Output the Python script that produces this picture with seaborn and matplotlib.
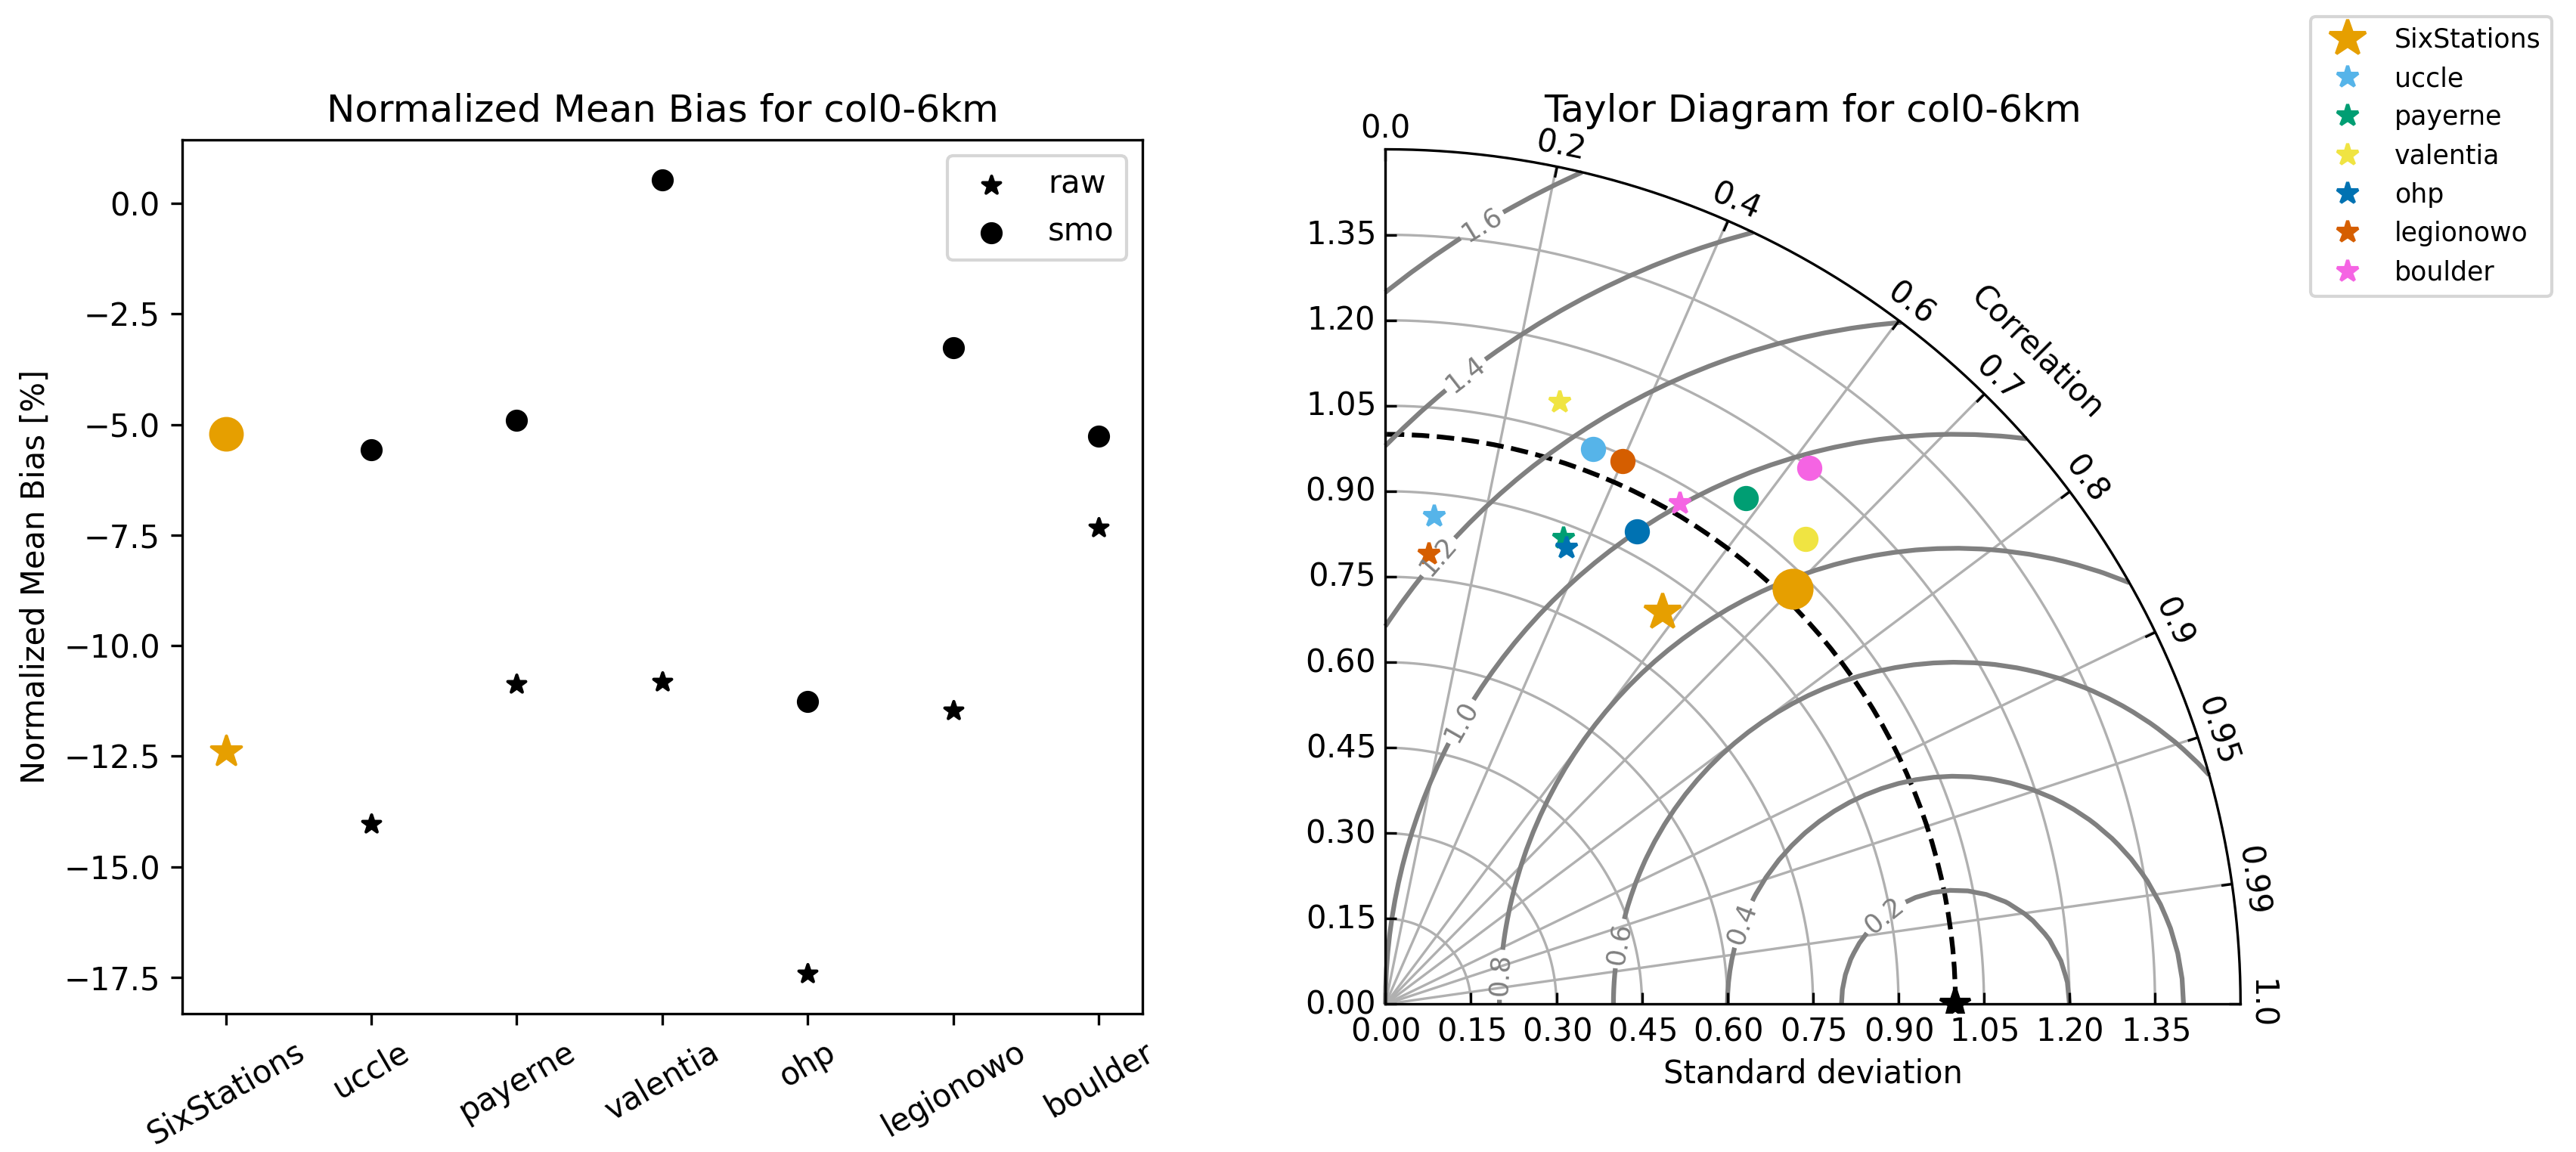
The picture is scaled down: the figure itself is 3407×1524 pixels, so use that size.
import numpy as np
import matplotlib
matplotlib.use('Agg')
import matplotlib.pyplot as plt
import seaborn as sns
from matplotlib.projections import PolarAxes
import mpl_toolkits.axisartist.floating_axes as FA
import mpl_toolkits.axisartist.grid_finder as GF

var_name = 'col0-6km'

# stations (SixStations is the combined set)
stations = ['uccle', 'payerne', 'valentia', 'ohp', 'legionowo', 'boulder']
station_colors = ['#56B4E9', '#009E73', '#F0E442', '#0072B2', '#D55E00', '#F564E3']
six_name = 'SixStations'
six_color = '#E69F00'

# normalized mean bias [%]
nmb_raw = [-14.03, -10.87, -10.82, -17.42, -11.46, -7.34]
nmb_smo = [-5.57, -4.91, 0.53, -11.26, -3.26, -5.27]
six_nmb_raw = -12.39
six_nmb_smo = -5.21

# taylor statistics (normalized std, correlation)
std_raw = [0.861, 0.875, 1.100, 0.861, 0.794, 1.020]
corr_raw = [0.100, 0.357, 0.278, 0.369, 0.097, 0.507]
std_smo = [1.040, 1.090, 1.100, 0.940, 1.040, 1.199]
corr_smo = [0.350, 0.580, 0.670, 0.469, 0.400, 0.620]
six_std_raw, six_corr_raw = 0.842, 0.578
six_std_smo, six_corr_smo = 1.020, 0.700
refstd = 1.0

corr_ticks = [0, 0.2, 0.4, 0.6, 0.7, 0.8, 0.9, 0.95, 0.99, 1]
rms_levels = [0.2, 0.4, 0.6, 0.8, 1.0, 1.2, 1.4, 1.6]
srange = (0, 1.5)
# where the rms labels sit (x, y in std units)
rms_label_xy = [(0.872, 0.161), (0.623, 0.142), (0.407, 0.107), (0.198, 0.052),
                (0.133, 0.496), (0.092, 0.786), (0.140, 1.105), (0.169, 1.367)]

fig = plt.figure(figsize=(3407 / 300, 1524 / 300), dpi=300)

## Normalized mean bias panel
ax1 = fig.add_axes([0.0707, 0.1201, 0.3728, 0.7583])
sns.scatterplot(x=[six_name], y=[six_nmb_smo], marker='o', s=100, color=six_color,
                edgecolor=six_color, linewidth=1, ax=ax1)
sns.scatterplot(x=[six_name], y=[six_nmb_raw], marker='*', s=100, color=six_color,
                edgecolor=six_color, linewidth=1, ax=ax1)
sns.scatterplot(x=stations, y=nmb_raw, marker='*', s=36, color='k', edgecolor='k',
                linewidth=1, label='raw', ax=ax1)
sns.scatterplot(x=stations, y=nmb_smo, marker='o', s=36, color='k', edgecolor='k',
                linewidth=1, label='smo', ax=ax1)
ax1.set_title(f'Normalized Mean Bias for {var_name}')
ax1.set_ylabel('Normalized Mean Bias [%]')
ax1.set_xlabel('')
ax1.tick_params(axis='x', labelrotation=30)
ax1.legend(loc='upper right')

## Taylor diagram panel
tr = PolarAxes.PolarTransform(apply_theta_transforms=False)
rlocs = np.array(corr_ticks)
tlocs = np.arccos(rlocs)
gl1 = GF.FixedLocator(tlocs)
tf1 = GF.DictFormatter(dict(zip(tlocs, map(str, rlocs))))
tmax = np.pi / 2
smin, smax = srange[0] * refstd, srange[1] * refstd

ghelper = FA.GridHelperCurveLinear(tr, extremes=(0, tmax, smin, smax),
                                   grid_locator1=gl1, tick_formatter1=tf1)
ax2 = fig.add_axes([0.53449, 0.12054, 0.33860, 0.75761],
                   axes_class=FA.FloatingAxes, grid_helper=ghelper)

ax2.axis['top'].set_axis_direction('bottom')
ax2.axis['top'].toggle(ticklabels=True, label=True)
ax2.axis['top'].major_ticklabels.set_axis_direction('top')
ax2.axis['top'].label.set_axis_direction('top')
ax2.axis['top'].label.set_text('Correlation')

ax2.axis['left'].set_axis_direction('bottom')
ax2.axis['left'].label.set_text('Standard deviation')

ax2.axis['right'].set_axis_direction('top')
ax2.axis['right'].toggle(ticklabels=True)
ax2.axis['right'].major_ticklabels.set_axis_direction('left')
ax2.axis['bottom'].set_visible(False)

ax2.grid(True)
ax2.set_title(f'Taylor Diagram for {var_name}')

aux = ax2.get_aux_axes(tr)

# reference point and std contour
aux.plot([0], [refstd], 'k*', ls='', ms=10, label='_')
t = np.linspace(0, tmax)
aux.plot(t, np.zeros_like(t) + refstd, 'k--', label='_')

# centered RMS difference contours
rs, ts = np.meshgrid(np.linspace(smin, smax), np.linspace(0, tmax))
rms = np.sqrt(refstd ** 2 + rs ** 2 - 2 * refstd * rs * np.cos(ts))
contours = aux.contour(ts, rs, rms, rms_levels, colors='0.5')
label_pos = [(np.arctan2(y, x), np.hypot(x, y)) for x, y in rms_label_xy]
aux.clabel(contours, inline=1, fontsize=8.5, fmt='%.1f', manual=label_pos)

sample_points = []
l, = aux.plot(np.arccos(six_corr_raw), six_std_raw, marker='*', ms=12, ls='',
              color=six_color, label=six_name)
sample_points.append(l)
aux.plot(np.arccos(six_corr_smo), six_std_smo, marker='o', ms=12, ls='', color=six_color)
for name, col, s_r, c_r, s_s, c_s in zip(stations, station_colors, std_raw, corr_raw,
                                         std_smo, corr_smo):
    l, = aux.plot(np.arccos(c_r), s_r, marker='*', ms=7, ls='', color=col, label=name)
    sample_points.append(l)
    aux.plot(np.arccos(c_s), s_s, marker='o', ms=7, ls='', color=col)

fig.legend(sample_points, [p.get_label() for p in sample_points], numpoints=1,
           prop=dict(size='small'), loc='upper right', bbox_to_anchor=(0.9956, 0.9971))

plt.savefig('out.png', dpi=300)
